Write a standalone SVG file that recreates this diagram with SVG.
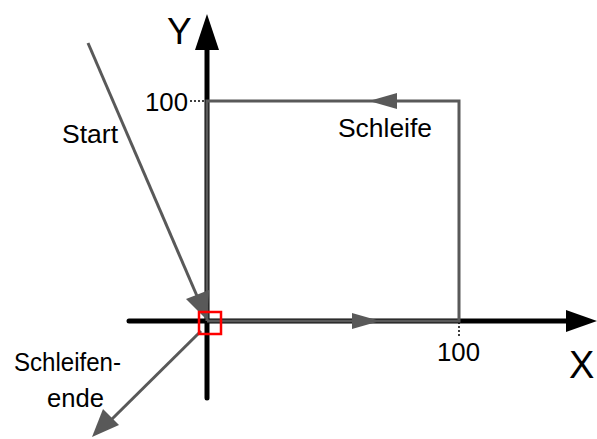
<svg xmlns="http://www.w3.org/2000/svg" width="597" height="439" viewBox="0 0 597 439">
<style>
text{font-family:"Liberation Sans",Arial,sans-serif;fill:#000;font-size:25px}
.ax{stroke:#000;stroke-width:5;fill:none;stroke-linecap:round}
.gl{stroke:#595959;stroke-width:3;fill:none}
.ah{fill:#595959}
.tick{stroke:#000;stroke-width:1.5;stroke-dasharray:2 2}
</style>
<rect width="597" height="439" fill="#fff"/>
<g id="axes">
<line class="ax" x1="129" y1="321" x2="568" y2="321"/>
<polygon points="566,310 597,321 566,332" fill="#000"/>
<line class="ax" x1="207" y1="398" x2="207" y2="48"/>
<polygon points="195,50 207,14 219,50" fill="#000"/>
<text x="167" y="44" style="font-size:37px">Y</text>
<text x="569" y="378" style="font-size:38px">X</text>
</g>
<g id="ticks">
<line class="tick" x1="190" y1="101" x2="207" y2="101"/>
<line class="tick" x1="459" y1="322" x2="459" y2="336"/>
<text x="145" y="111" textLength="43" lengthAdjust="spacingAndGlyphs">100</text>
<text x="437" y="361" textLength="43" lengthAdjust="spacingAndGlyphs">100</text>
</g>
<g id="connectors">
<polyline class="gl" points="207,321 459,321 459,101 207,101 207,321"/>
<polygon class="ah" points="352,313 380,321 352,329"/>
<polygon class="ah" points="397,93 369,101 397,109"/>
<line class="gl" x1="88" y1="43" x2="197" y2="296"/>
<polygon class="ah" points="186,299 207,320 209,290"/>
<line class="gl" x1="201" y1="331" x2="110" y2="421"/>
<polygon class="ah" points="92,437 103,409 119,425"/>
</g>
<g id="origin">
<rect x="199" y="312" width="22" height="22" fill="none" stroke="#ff0000" stroke-width="2.5"/>
</g>
<g id="labels">
<text x="62" y="143" textLength="56" lengthAdjust="spacingAndGlyphs">Start</text>
<text x="338" y="137" textLength="94" lengthAdjust="spacingAndGlyphs">Schleife</text>
<text x="14" y="371" textLength="107" lengthAdjust="spacingAndGlyphs">Schleifen-</text>
<text x="47" y="407" textLength="57" lengthAdjust="spacingAndGlyphs">ende</text>
</g>
</svg>
